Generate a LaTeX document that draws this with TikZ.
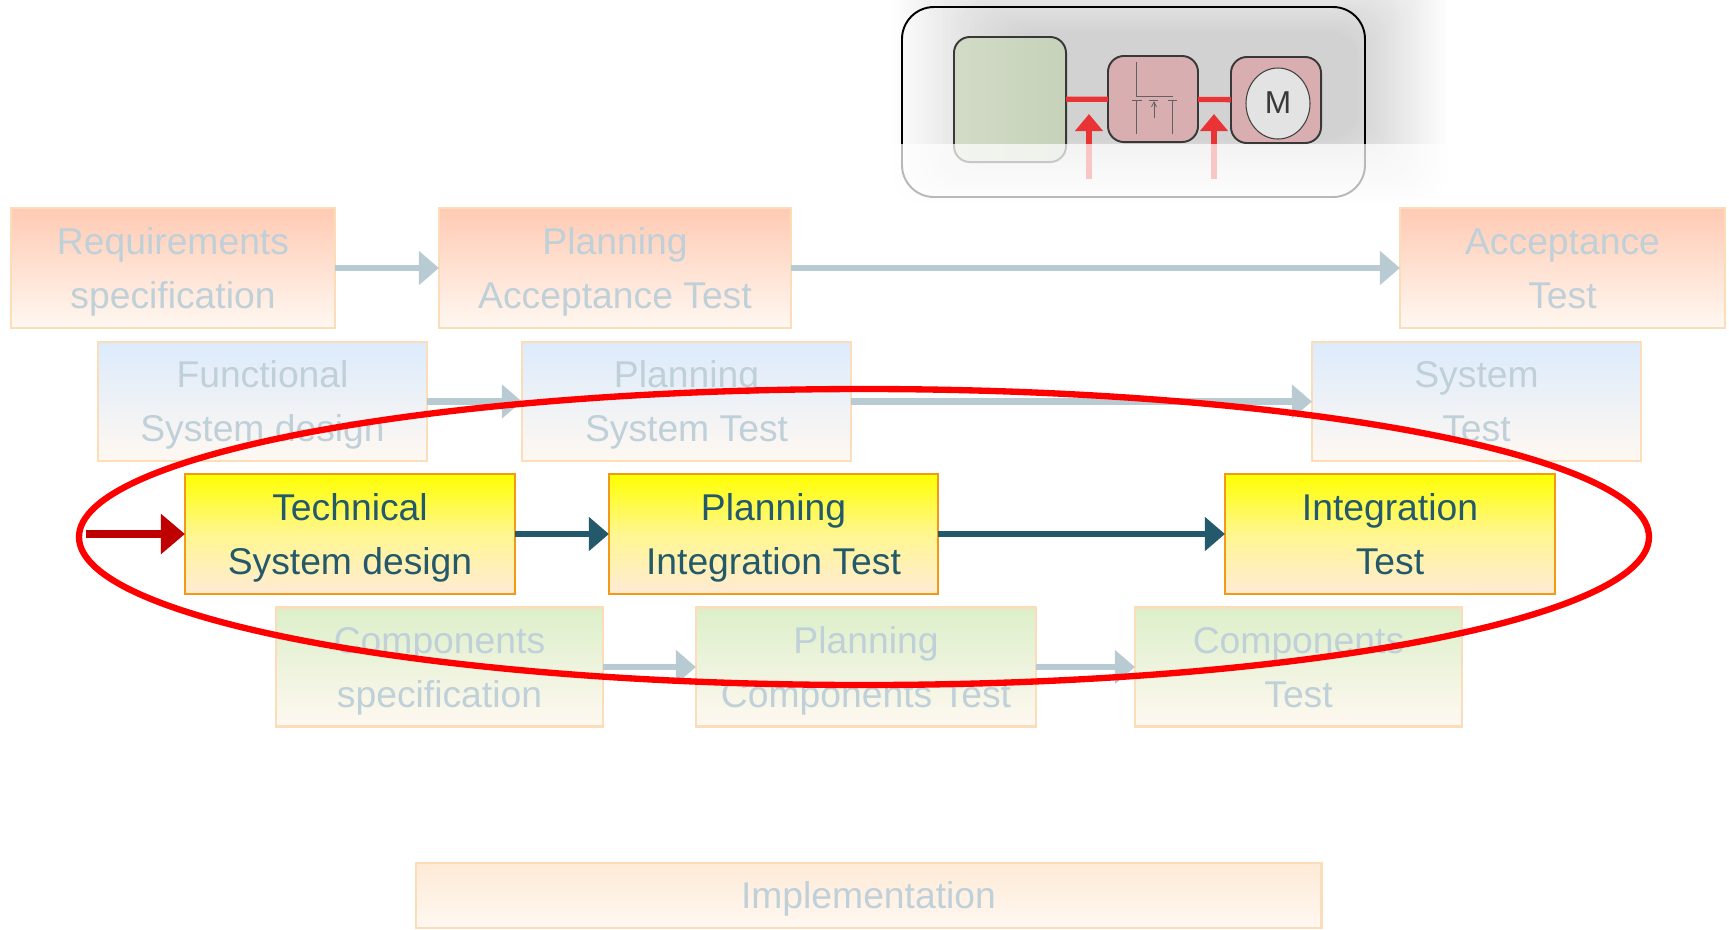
\documentclass[tikz,border=0pt]{standalone}
\usepackage{xcolor}
\usepackage{fontspec}
\usepackage{tikz}
\usetikzlibrary{arrows.meta}
\setmainfont{Liberation Sans}

\definecolor{fadetext}{HTML}{BFD0D9}
\definecolor{fadeline}{HTML}{B9CBD2}
\definecolor{fadeedge}{HTML}{FBDDB9}
\definecolor{fadeend}{HTML}{FFF8F1}
\definecolor{reqtop}{HTML}{FFCAB3}
\definecolor{systop}{HTML}{DCEBFC}
\definecolor{comptop}{HTML}{DCEFC9}
\definecolor{impltop}{HTML}{FEEAD7}
\definecolor{techmid}{HTML}{FFF690}
\definecolor{techend}{HTML}{FFEBD6}
\definecolor{techedge}{HTML}{F29A17}
\definecolor{techtext}{HTML}{24596B}
\definecolor{darkred}{HTML}{BE0000}
\definecolor{linkred}{HTML}{EA3335}
\definecolor{ctrlgreen}{HTML}{C6D2BA}
\definecolor{ctrlleft}{HTML}{D2DBC6}
\definecolor{powerred}{HTML}{D9AEB0}

\newcommand{\rowstrut}{\rule[-3.9pt]{0pt}{15.4pt}}
\newcommand{\tworows}[2]{\rule{0pt}{11.5pt}#1\\#2\rule[-3.9pt]{0pt}{1pt}}

\tikzset{
    stagebox/.style={minimum height=1.19cm, inner sep=0pt, outer sep=0pt, line width=.7pt,
        align=center, font=\fontsize{10.6}{15.4}\selectfont},
    fadebox/.style={stagebox, draw=fadeedge, text=fadetext, top color=#1, bottom color=fadeend},
    techbox/.style={stagebox, draw=techedge, text=techtext, top color=yellow, bottom color=techend, middle color=techmid},
    fadearrow/.style={draw=fadeline, fill=fadeline, line width=1.8pt, -{Triangle[length=.2cm,width=.33cm]}},
    techarrow/.style={draw=techtext, fill=techtext, line width=1.8pt, -{Triangle[length=.2cm,width=.33cm]}},
    unitbox/.style={draw=black!78, line width=.55pt, rounded corners=.16cm, inner sep=0pt, outer sep=0pt},
    signalarrow/.style={draw=linkred, fill=linkred, line width=1.5pt, -{Triangle[length=.17cm,width=.27cm]}},
    symbolline/.style={black!62, line width=.25pt}
}

\begin{document}
\begin{tikzpicture}[x=.01cm, y=-.01cm]
    \useasboundingbox (0,0) rectangle (1729,929);

    % blurred shadow of the panel
    \foreach \i [evaluate=\i as \shade using .65*\i] in {0,...,27} {
        \fill[black!\shade, rounded corners=.3cm]
            (888+4.5*\i, -50+3*\i) rectangle (1450-3.4*\i, 207-2.5*\i);
    }
    \draw[black, line width=.55pt, rounded corners=.32cm] (902,7) rectangle (1365,197);

    \node[unitbox, left color=ctrlleft, right color=ctrlgreen, minimum width=1.12cm, minimum height=1.25cm] (ctrl) at (1010,99.5) {};
    \node[unitbox, fill=powerred, minimum width=.9cm, minimum height=.86cm] (switch) at (1153,99) {};
    \node[unitbox, fill=powerred, minimum width=.9cm, minimum height=.86cm] (motor) at (1276,100) {};
    \draw[black!75, line width=.3pt, fill=black!11] (1278,103.5) ellipse [x radius=32, y radius=35.5];
    \node[font=\fontsize{9}{9}\selectfont, text=black!78, inner sep=0pt] (mlabel) at (1278,103) {M};

    \draw[symbolline] (1136,62) -- (1136,96) -- (1173,96);
    \draw[symbolline] (1132,100) -- (1142,100);
    \draw[symbolline] (1136,100) -- (1136,134);
    \draw[symbolline] (1149,100) -- (1158,100);
    \draw[symbolline, -{Straight Barb[length=.05cm,width=.05cm]}] (1154,118) -- (1154,101);
    \draw[symbolline] (1168,100) -- (1177,100);
    \draw[symbolline] (1172,100) -- (1172,134);

    \draw[linkred, line width=1.5pt] (ctrl) -- (switch);
    \draw[linkred, line width=1.5pt] (switch) -- (motor);

    \coordinate (sigafrom) at (1089,179);
    \coordinate (sigato) at (1089,114);
    \coordinate (sigbfrom) at (1214,179);
    \coordinate (sigbto) at (1214,114);
    \draw[signalarrow] (sigafrom) -- (sigato);
    \draw[signalarrow] (sigbfrom) -- (sigbto);

    % everything under this edge is washed out
    \fill[white, opacity=.72] (880,144) rectangle (1520,207);

    \node[fadebox=reqtop, minimum width=3.24cm, minimum height=1.2cm] (req) at (173,268) {\tworows{Requirements}{specification}};
    \node[fadebox=reqtop, minimum width=3.52cm, minimum height=1.2cm] (planacc) at (615,268) {\tworows{Planning}{Acceptance Test}};
    \node[fadebox=reqtop, minimum width=3.25cm, minimum height=1.2cm] (acctest) at (1562.5,268) {\tworows{Acceptance}{Test}};
    \draw[fadearrow] (req) -- (planacc);
    \draw[fadearrow] (planacc) -- (acctest);

    \node[fadebox=systop, minimum width=3.29cm] (func) at (262.5,401.5) {\tworows{Functional}{System design}};
    \node[fadebox=systop, minimum width=3.29cm] (plansys) at (686.5,401.5) {\tworows{Planning}{System Test}};
    \node[fadebox=systop, minimum width=3.29cm] (systest) at (1476.5,401.5) {\tworows{System}{Test}};
    \draw[fadearrow] (func) -- (plansys);
    \draw[fadearrow] (plansys) -- (systest);

    \node[fadebox=comptop, minimum width=3.27cm] (comp) at (439.5,667) {\tworows{Components}{specification}};
    \node[fadebox=comptop, minimum width=3.40cm] (plancomp) at (866,667) {\tworows{Planning}{Components Test}};
    \node[fadebox=comptop, minimum width=3.27cm] (comptest) at (1298.5,667) {\tworows{Components}{Test}};
    \draw[fadearrow] (comp) -- (plancomp);
    \draw[fadearrow] (plancomp) -- (comptest);

    \node[fadebox=impltop, minimum width=9.05cm, minimum height=.65cm] (impl) at (868.5,895.5) {\rowstrut Implementation};

    \node[techbox, minimum width=3.30cm, minimum height=1.2cm] (tech) at (350,534) {\tworows{Technical}{System design}};
    \node[techbox, minimum width=3.29cm, minimum height=1.2cm] (planint) at (773.5,534) {\tworows{Planning}{Integration Test}};
    \node[techbox, minimum width=3.30cm, minimum height=1.2cm] (inttest) at (1390,534) {\tworows{Integration}{Test}};
    \draw[techarrow] (tech) -- (planint);
    \draw[techarrow] (planint) -- (inttest);

    \draw[red, line width=1.8pt] (864,537) ellipse [x radius=785, y radius=148];

    \coordinate (entry) at (86,534);
    \draw[draw=darkred, fill=darkred, line width=2.2pt, -{Triangle[length=.24cm,width=.39cm]}] (entry) -- (tech);
\end{tikzpicture}
\end{document}
